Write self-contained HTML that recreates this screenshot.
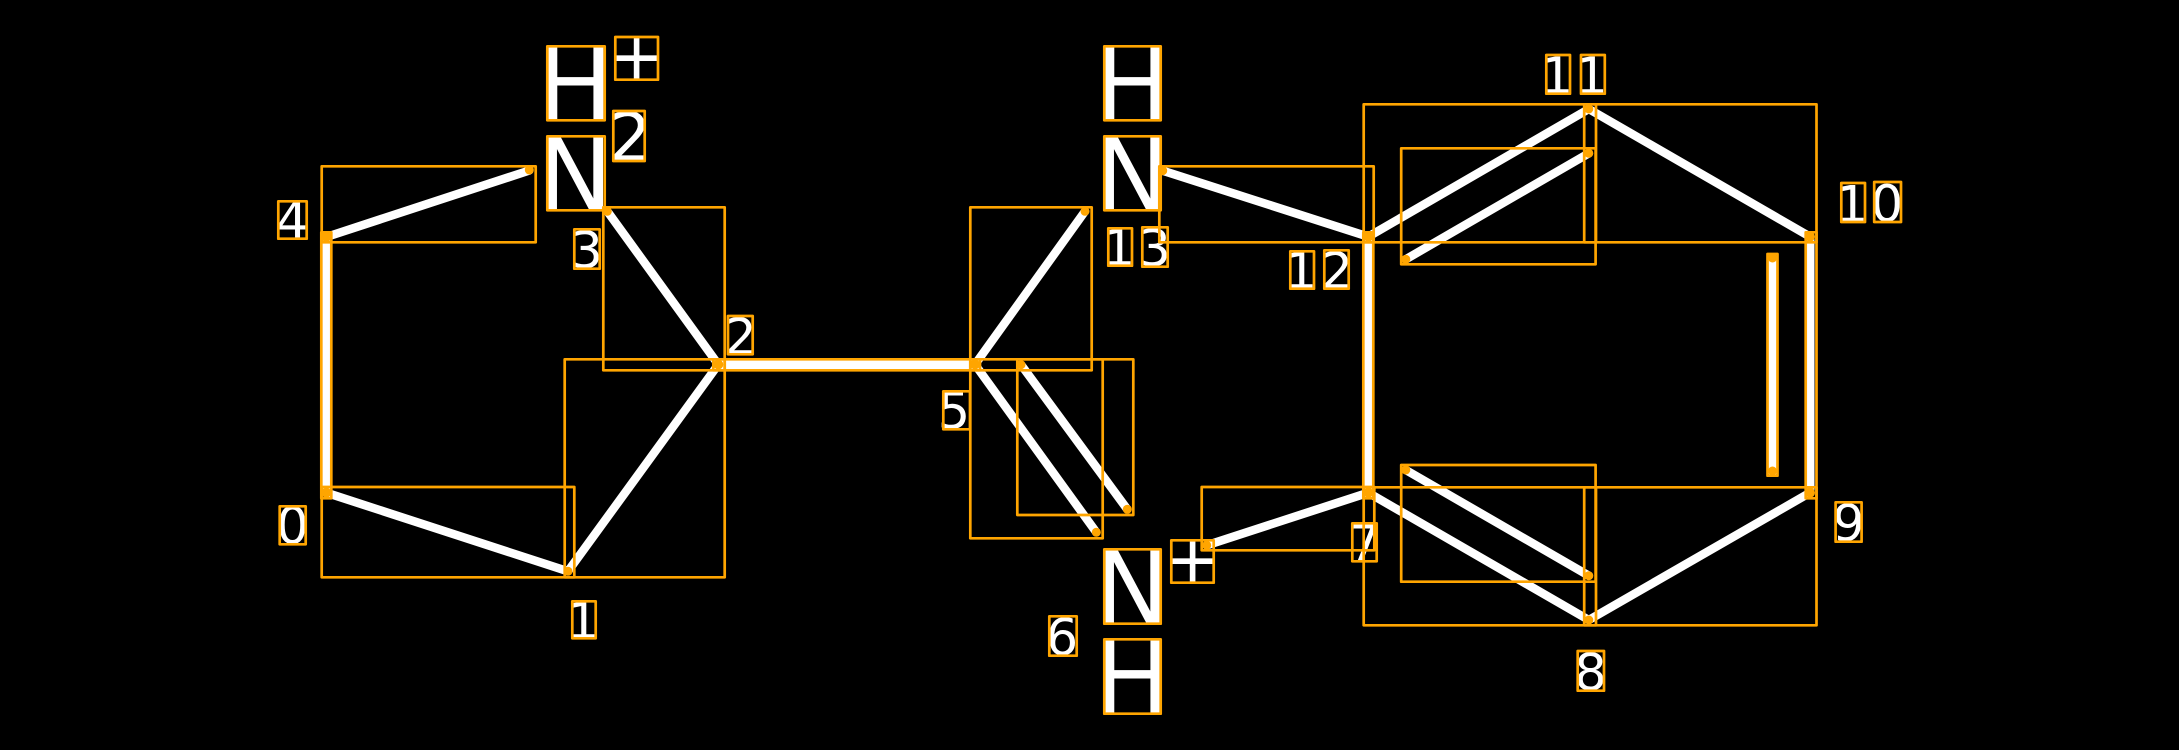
<!DOCTYPE html>
<html><head><meta charset="utf-8"><title>Molecule diagram</title>
<style>
html,body{margin:0;padding:0;background:#000;width:2179px;height:750px;overflow:hidden}
svg{display:block}
text{font-family:"DejaVu Sans",sans-serif;fill:#fff}
.a{font-size:101px}.b{font-size:68px}.c{font-size:51px}
</style></head><body>
<svg xmlns="http://www.w3.org/2000/svg" width="2179" height="750" viewBox="0 0 2179 750">
<rect width="2179" height="750" fill="#000"/>
<g stroke="#fff" stroke-width="8.5" stroke-linecap="round" fill="none">
<line x1="326.3" y1="237" x2="529.3" y2="170.5"/>
<line x1="326.3" y1="237" x2="326.3" y2="492.7" stroke-width="9"/>
<line x1="326.3" y1="492.7" x2="568" y2="571.3"/>
<line x1="568" y1="571.3" x2="718.3" y2="364.5"/>
<line x1="718.3" y1="364.5" x2="607.3" y2="211.3"/>
<line x1="718.3" y1="364.8" x2="975" y2="364.8" stroke-width="9"/>
<line x1="975" y1="364.5" x2="1085" y2="211.3"/>
<line x1="975" y1="364.5" x2="1096.3" y2="532.3"/>
<line x1="1021" y1="364.7" x2="1127.3" y2="509.3"/>
<line x1="1162.7" y1="170.7" x2="1368.3" y2="236.7"/>
<line x1="1206.7" y1="545.3" x2="1368.3" y2="492.7"/>
<line x1="1368.3" y1="236.7" x2="1368.3" y2="492.7" stroke-width="9"/>
<line x1="1368.3" y1="236.7" x2="1588.8" y2="109"/>
<line x1="1405.8" y1="259.3" x2="1588.8" y2="153.3"/>
<line x1="1588.8" y1="109" x2="1810" y2="236.7"/>
<line x1="1810" y1="236.7" x2="1810" y2="492.7" stroke-width="9"/>
<line x1="1772.5" y1="258" x2="1772.5" y2="472" stroke-width="9"/>
<line x1="1810" y1="492.7" x2="1588.8" y2="620"/>
<line x1="1588.8" y1="620" x2="1368.3" y2="492.7"/>
<line x1="1405.8" y1="470" x2="1588.8" y2="575.7"/>
</g>
<text class="a" x="537.4" y="120.3">H</text>
<text class="a" x="537.4" y="210.3">N</text>
<text class="b" x="608.1" y="79.7">+</text>
<text class="b" x="608.4" y="161">2</text>
<text class="c" x="275.8" y="238.7">4</text>
<text class="c" x="570.4" y="268">3</text>
<text class="c" x="276.3" y="543.6">0</text>
<text class="c" x="566.7" y="638.3">1</text>
<text class="c" x="724.3" y="354.3">2</text>
<text class="c" x="937.8" y="428.6">5</text>
<text class="c" x="1045.7" y="655">6</text>
<text class="c" x="1348.1" y="561.3">7</text>
<text class="c" x="1574.2" y="690">8</text>
<text class="c" x="1832.4" y="541">9</text>
<text class="c" x="1835.7" y="222">1</text>
<text class="c" x="1870.8" y="221.3">0</text>
<text class="c" x="1540.7" y="93.7">1</text>
<text class="c" x="1575.4" y="93.7">1</text>
<text class="c" x="1284.7" y="288.7">1</text>
<text class="c" x="1320.6" y="288.7">2</text>
<text class="c" x="1102.7" y="265.7">1</text>
<text class="c" x="1138.4" y="266">3</text>
<text class="a" x="1094.4" y="120.3">H</text>
<text class="a" x="1094.4" y="210.3">N</text>
<text class="a" x="1094.4" y="623.7">N</text>
<text class="a" x="1094.4" y="713.7">H</text>
<text class="b" x="1164.1" y="582.7">+</text>
<g fill="none" stroke="#FFA500" stroke-width="2.7" stroke-linejoin="round">
<rect x="547.3" y="46.3" width="57.4" height="74"/>
<rect x="547.3" y="136.3" width="57.4" height="74"/>
<rect x="615.3" y="37" width="42.7" height="42.7"/>
<rect x="613.3" y="111" width="31.4" height="50"/>
<rect x="278.3" y="201.3" width="28.4" height="37.4"/>
<rect x="574.3" y="229.3" width="25.4" height="39.4"/>
<rect x="279.7" y="506.3" width="26" height="38"/>
<rect x="572.3" y="601.3" width="23.4" height="37"/>
<rect x="728" y="316" width="24.7" height="38.3"/>
<rect x="943.3" y="391.3" width="26.7" height="38"/>
<rect x="1049.3" y="616.3" width="27.4" height="39.4"/>
<rect x="1352.3" y="523.3" width="24.4" height="38"/>
<rect x="1577.7" y="651" width="26.3" height="39.7"/>
<rect x="1835.6" y="502.3" width="26" height="39.4"/>
<rect x="1841.3" y="183" width="23.7" height="39"/>
<rect x="1874.2" y="182" width="26.8" height="40"/>
<rect x="1546.3" y="55" width="23.7" height="38.7"/>
<rect x="1581" y="55" width="23.8" height="38.7"/>
<rect x="1290.3" y="251.3" width="23.7" height="37.4"/>
<rect x="1324.3" y="250.3" width="24.4" height="38.4"/>
<rect x="1108.3" y="228.3" width="23.7" height="37.4"/>
<rect x="1142.3" y="227.3" width="25.4" height="39.4"/>
<rect x="1104.3" y="46.3" width="56.4" height="74"/>
<rect x="1104.3" y="136.3" width="56.4" height="74"/>
<rect x="1104.3" y="549.3" width="56.4" height="74.4"/>
<rect x="1104.3" y="639.3" width="56.4" height="74.4"/>
<rect x="1171.3" y="540.3" width="42.4" height="42.4"/>
<rect x="321.7" y="166.3" width="214" height="76"/>
<rect x="321.3" y="232.3" width="10" height="266"/>
<rect x="321.7" y="487" width="252.6" height="90.3"/>
<rect x="564.7" y="359.3" width="160" height="218"/>
<rect x="603.3" y="207.3" width="121.4" height="163"/>
<rect x="713.3" y="359.3" width="266.7" height="11"/>
<rect x="970.3" y="207.3" width="121.4" height="163"/>
<rect x="970.3" y="359.3" width="132.4" height="179"/>
<rect x="1017.3" y="359.3" width="116" height="155.7"/>
<rect x="1159.3" y="166.3" width="214.4" height="76"/>
<rect x="1201.7" y="487" width="172.6" height="63.3"/>
<rect x="1363.3" y="232.3" width="10" height="266"/>
<rect x="1363.7" y="104.3" width="232.3" height="138"/>
<rect x="1584.2" y="104.3" width="232.3" height="138"/>
<rect x="1401.2" y="148.3" width="194.4" height="116"/>
<rect x="1363.7" y="487.3" width="232.3" height="138"/>
<rect x="1584.2" y="487.3" width="232.3" height="138"/>
<rect x="1401.2" y="465" width="194.4" height="116.7"/>
<rect x="1767.5" y="254" width="10" height="221.7"/>
<rect x="1805.7" y="232.3" width="10.8" height="266"/>
</g>
<g fill="#FFA500">
<circle cx="326.3" cy="237" r="5"/>
<circle cx="529.3" cy="170" r="4.5"/>
<circle cx="326.3" cy="492.7" r="5"/>
<circle cx="568" cy="571.3" r="4.5"/>
<circle cx="718.3" cy="364.5" r="5"/>
<circle cx="607.3" cy="211.3" r="4.5"/>
<circle cx="975" cy="364.5" r="5"/>
<circle cx="1085" cy="211.3" r="4.5"/>
<circle cx="1096.3" cy="532.3" r="4.5"/>
<circle cx="1127.3" cy="509.3" r="4.5"/>
<circle cx="1021" cy="364.7" r="4.5"/>
<circle cx="1162.7" cy="170.7" r="4.5"/>
<circle cx="1206.7" cy="545.3" r="4.5"/>
<circle cx="1368.3" cy="236.7" r="5"/>
<circle cx="1368.3" cy="492.7" r="5"/>
<circle cx="1588.8" cy="109" r="4.5"/>
<circle cx="1588.8" cy="153.3" r="4.5"/>
<circle cx="1405.8" cy="259.3" r="4.5"/>
<circle cx="1810" cy="236.7" r="5"/>
<circle cx="1810" cy="492.7" r="5"/>
<circle cx="1772.5" cy="258" r="4.5"/>
<circle cx="1772.5" cy="471" r="4.5"/>
<circle cx="1588.8" cy="620" r="4.5"/>
<circle cx="1405.8" cy="470" r="4.5"/>
<circle cx="1588.8" cy="575.7" r="4.5"/>
</g>
</svg>
</body></html>
